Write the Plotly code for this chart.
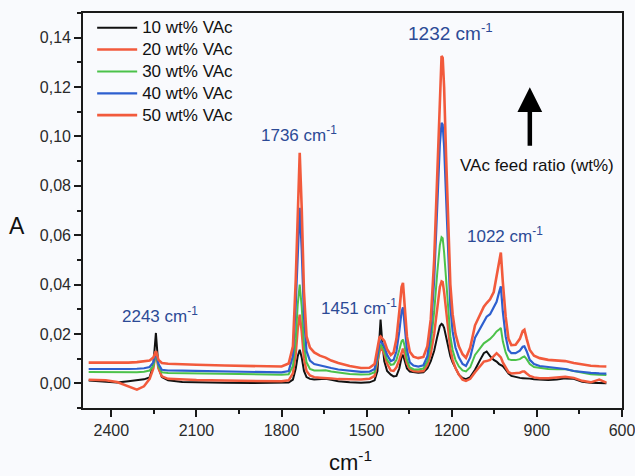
import plotly.graph_objects as go

# Wavenumber grid (cm^-1)
wavenumber = [2480, 2420, 2380, 2340, 2310, 2285, 2265, 2252, 2243, 2234, 2222, 2200, 2150, 2100, 2000,
              1900, 1800, 1775, 1760, 1750, 1743, 1736, 1729, 1721, 1712, 1700, 1685, 1665, 1645, 1625,
              1600, 1560, 1520, 1490, 1472, 1462, 1455, 1451, 1446, 1438, 1428, 1415, 1405, 1395, 1385,
              1377, 1372, 1366, 1358, 1348, 1335, 1318, 1300, 1286, 1274, 1262, 1251, 1242, 1236, 1232,
              1227, 1220, 1213, 1205, 1197, 1187, 1175, 1162, 1150, 1135, 1118, 1100, 1087, 1077, 1065,
              1052, 1042, 1033, 1027, 1020, 1010, 1000, 990, 975, 960, 950, 944, 936, 925, 910,
              890, 860, 830, 800, 770, 740, 710, 680, 655]

abs_10 = [0.0011, 0.0006, 0.0003, 0.0008, 0.0012, 0.0016, 0.0024, 0.0075, 0.0204, 0.0065, 0.0025, 0.0012, 0.0005, 0.0003, 0.0002,
          0.0001, 0.0001, 0.0003, 0.0015, 0.0060, 0.0110, 0.0136, 0.0105, 0.0050, 0.0025, 0.0018, 0.0015, 0.0016, 0.0018, 0.0014,
          0.0008, 0.0004, 0.0002, 0.0004, 0.0012, 0.0050, 0.0180, 0.0258, 0.0180, 0.0090, 0.0050, 0.0035, 0.0028, 0.0030, 0.0060,
          0.0105, 0.0116, 0.0090, 0.0060, 0.0048, 0.0045, 0.0043, 0.0045, 0.0060, 0.0090, 0.0132, 0.0190, 0.0232, 0.0241, 0.0238,
          0.0225, 0.0190, 0.0150, 0.0110, 0.0085, 0.0060, 0.0035, 0.0022, 0.0017, 0.0025, 0.0055, 0.0095, 0.0122, 0.0129, 0.0110,
          0.0095, 0.0088, 0.0078, 0.0074, 0.0070, 0.0055, 0.0040, 0.0030, 0.0025, 0.0022, 0.0021, 0.0021, 0.0021, 0.0019, 0.0016,
          0.0014, 0.0013, 0.0015, 0.0020, 0.0018, 0.0006, 0.0002, 0.0001, 0.0000]

abs_20 = [0.0014, 0.0012, 0.0005, -0.0012, -0.0026, -0.0012, 0.0018, 0.0060, 0.0130, 0.0060, 0.0028, 0.0018, 0.0014, 0.0013, 0.0011,
          0.0009, 0.0008, 0.0012, 0.0040, 0.0120, 0.0220, 0.0278, 0.0210, 0.0100, 0.0050, 0.0032, 0.0025, 0.0023, 0.0023, 0.0020,
          0.0017, 0.0015, 0.0015, 0.0018, 0.0030, 0.0090, 0.0135, 0.0145, 0.0140, 0.0120, 0.0080, 0.0052, 0.0050, 0.0065, 0.0095,
          0.0130, 0.0140, 0.0120, 0.0080, 0.0058, 0.0050, 0.0048, 0.0050, 0.0075, 0.0120, 0.0200, 0.0310, 0.0390, 0.0413, 0.0410,
          0.0370, 0.0300, 0.0210, 0.0140, 0.0095, 0.0062, 0.0035, 0.0015, 0.0010, 0.0018, 0.0045, 0.0072, 0.0088, 0.0090, 0.0095,
          0.0110, 0.0122, 0.0112, 0.0105, 0.0085, 0.0062, 0.0045, 0.0040, 0.0040, 0.0043, 0.0048, 0.0048, 0.0040, 0.0030, 0.0024,
          0.0021, 0.0021, 0.0024, 0.0027, 0.0022, 0.0010, 0.0004, 0.0015, 0.0003]

abs_30 = [0.0046, 0.0045, 0.0044, 0.0044, 0.0045, 0.0047, 0.0052, 0.0070, 0.0120, 0.0068, 0.0045, 0.0042, 0.0041, 0.0040, 0.0038,
          0.0036, 0.0035, 0.0037, 0.0070, 0.0180, 0.0320, 0.0400, 0.0310, 0.0160, 0.0085, 0.0058, 0.0052, 0.0052, 0.0053, 0.0048,
          0.0043, 0.0038, 0.0036, 0.0037, 0.0045, 0.0100, 0.0148, 0.0156, 0.0150, 0.0130, 0.0095, 0.0075, 0.0077, 0.0095, 0.0135,
          0.0170, 0.0177, 0.0150, 0.0095, 0.0065, 0.0057, 0.0056, 0.0060, 0.0090, 0.0160, 0.0290, 0.0450, 0.0560, 0.0592, 0.0588,
          0.0530, 0.0420, 0.0290, 0.0190, 0.0135, 0.0095, 0.0068, 0.0052, 0.0048, 0.0065, 0.0115, 0.0145, 0.0162, 0.0170, 0.0180,
          0.0195, 0.0210, 0.0218, 0.0224, 0.0170, 0.0125, 0.0098, 0.0094, 0.0094, 0.0098, 0.0106, 0.0109, 0.0098, 0.0078, 0.0066,
          0.0062, 0.0058, 0.0057, 0.0058, 0.0050, 0.0042, 0.0037, 0.0035, 0.0034]

abs_40 = [0.0058, 0.0057, 0.0057, 0.0058, 0.0059, 0.0061, 0.0066, 0.0085, 0.0128, 0.0078, 0.0055, 0.0052, 0.0051, 0.0050, 0.0048,
          0.0046, 0.0044, 0.0050, 0.0110, 0.0320, 0.0550, 0.0711, 0.0540, 0.0270, 0.0130, 0.0092, 0.0078, 0.0072, 0.0069, 0.0062,
          0.0056, 0.0050, 0.0046, 0.0047, 0.0058, 0.0110, 0.0162, 0.0172, 0.0165, 0.0150, 0.0115, 0.0090, 0.0095, 0.0130, 0.0210,
          0.0290, 0.0308, 0.0240, 0.0135, 0.0085, 0.0072, 0.0068, 0.0073, 0.0110, 0.0210, 0.0420, 0.0720, 0.0970, 0.1055, 0.1048,
          0.0960, 0.0740, 0.0500, 0.0310, 0.0210, 0.0145, 0.0105, 0.0078, 0.0070, 0.0105, 0.0185, 0.0225, 0.0250, 0.0270, 0.0280,
          0.0305, 0.0330, 0.0370, 0.0393, 0.0290, 0.0190, 0.0135, 0.0122, 0.0122, 0.0132, 0.0148, 0.0150, 0.0130, 0.0095, 0.0078,
          0.0070, 0.0066, 0.0062, 0.0058, 0.0050, 0.0045, 0.0042, 0.0040, 0.0039]

abs_50 = [0.0084, 0.0083, 0.0083, 0.0084, 0.0086, 0.0088, 0.0092, 0.0105, 0.0130, 0.0095, 0.0082, 0.0079, 0.0076, 0.0075, 0.0072,
          0.0070, 0.0068, 0.0080, 0.0150, 0.0420, 0.0720, 0.0934, 0.0710, 0.0370, 0.0190, 0.0145, 0.0125, 0.0112, 0.0104, 0.0092,
          0.0082, 0.0070, 0.0062, 0.0063, 0.0078, 0.0135, 0.0185, 0.0190, 0.0182, 0.0172, 0.0138, 0.0115, 0.0125, 0.0180, 0.0290,
          0.0390, 0.0407, 0.0320, 0.0190, 0.0128, 0.0108, 0.0102, 0.0107, 0.0150, 0.0260, 0.0500, 0.0850, 0.1180, 0.1326, 0.1318,
          0.1200, 0.0920, 0.0630, 0.0400, 0.0280, 0.0200, 0.0150, 0.0118, 0.0103, 0.0145, 0.0235, 0.0280, 0.0310, 0.0325, 0.0340,
          0.0370, 0.0428, 0.0490, 0.0530, 0.0410, 0.0270, 0.0180, 0.0155, 0.0156, 0.0180, 0.0212, 0.0217, 0.0180, 0.0135, 0.0112,
          0.0102, 0.0095, 0.0092, 0.0090, 0.0082, 0.0075, 0.0071, 0.0069, 0.0068]

series_names = ["10 wt% VAc", "20 wt% VAc", "30 wt% VAc", "40 wt% VAc", "50 wt% VAc"]
series_values = [abs_10, abs_20, abs_30, abs_40, abs_50]
series_colors = ["#111111", "#f25a3c", "#4cc24a", "#2d5fcf", "#f25a3c"]
series_widths = [2, 2.5, 2, 2.2, 2.6]

peak_labels = ["2243", "1736", "1451", "1232", "1022"]
label_x = [2227, 1740, 1528, 1205, 1013]
label_y = [0.0278, 0.1010, 0.0310, 0.1422, 0.0600]
label_size = [17, 17, 17, 19, 17]

FONT = "Liberation Sans, Arial, sans-serif"

fig = go.Figure()
for name, vals, col, w in zip(series_names, series_values, series_colors, series_widths):
    fig.add_trace(go.Scatter(x=wavenumber, y=vals, mode="lines",
                             name=f"<span style='font-size:17px'>{name}</span>",
                             line=dict(color=col, width=w)))

for lab, lx, ly, fs in zip(peak_labels, label_x, label_y, label_size):
    fig.add_annotation(x=lx, y=ly, xref="x", yref="y", text=f"{lab} cm<sup>-1</sup>",
                       xanchor="center", yanchor="middle",
                       showarrow=False, font=dict(size=fs, color="#2c4a96", family=FONT))

# Arrow and its caption
fig.add_annotation(x=0.829, y=0.812, xref="paper", yref="paper", text="", showarrow=True,
                   ax=0, ay=60, arrowhead=2, arrowsize=1.1, arrowwidth=4.5, arrowcolor="#000000")
fig.add_annotation(x=0.842, y=0.613, xref="paper", yref="paper", text="VAc feed ratio (wt%)",
                   xanchor="center", yanchor="middle",
                   showarrow=False, font=dict(size=17, color="#111111"))
# Axis titles
fig.add_annotation(x=-0.122, y=0.462, xref="paper", yref="paper", text="A", showarrow=False,
                   xanchor="center", yanchor="middle", font=dict(size=23, color="#111111"))
fig.add_annotation(x=0.497, y=-0.133, xref="paper", yref="paper", text="cm<sup>-1</sup>",
                   xanchor="center", yanchor="middle",
                   showarrow=False, font=dict(size=22, color="#111111"))

axis_common = dict(showline=True, linecolor="#1a1a1a", linewidth=1.6, mirror=True,
                   ticks="outside", ticklen=7, tickwidth=1.5, tickcolor="#1a1a1a",
                   showgrid=False, zeroline=False, ticklabeloverflow="allow", automargin=False,
                   tickfont=dict(size=16, color="#2a2a2a"))

fig.update_xaxes(range=[2500, 599.9], dtick=300, tick0=0,
                 minor=dict(dtick=150, ticks="outside", ticklen=4, tickwidth=1.5, tickcolor="#1a1a1a"),
                 **axis_common)
fig.update_yaxes(range=[-0.01, 0.15], dtick=0.02, tick0=0, tickformat=".2f",
                 minor=dict(dtick=0.01, ticks="outside", ticklen=4, tickwidth=1.5, tickcolor="#1a1a1a"),
                 **axis_common)

fig.update_layout(
    width=635, height=476,
    margin=dict(l=83, r=13, t=13, b=68),
    paper_bgcolor="#f9fafd", plot_bgcolor="#f9fafd",
    separators=",.",
    font=dict(family=FONT, color="#111111"),
    showlegend=True,
    legend=dict(x=0.017, y=1.003, xanchor="left", yanchor="top", bgcolor="rgba(0,0,0,0)",
                font=dict(size=14.5, color="#111111"), itemwidth=40, tracegroupgap=0),
)

fig.write_html("out.html", config={"displayModeBar": False},
               post_script="document.body.style.margin='0';document.body.style.overflow='hidden';")
